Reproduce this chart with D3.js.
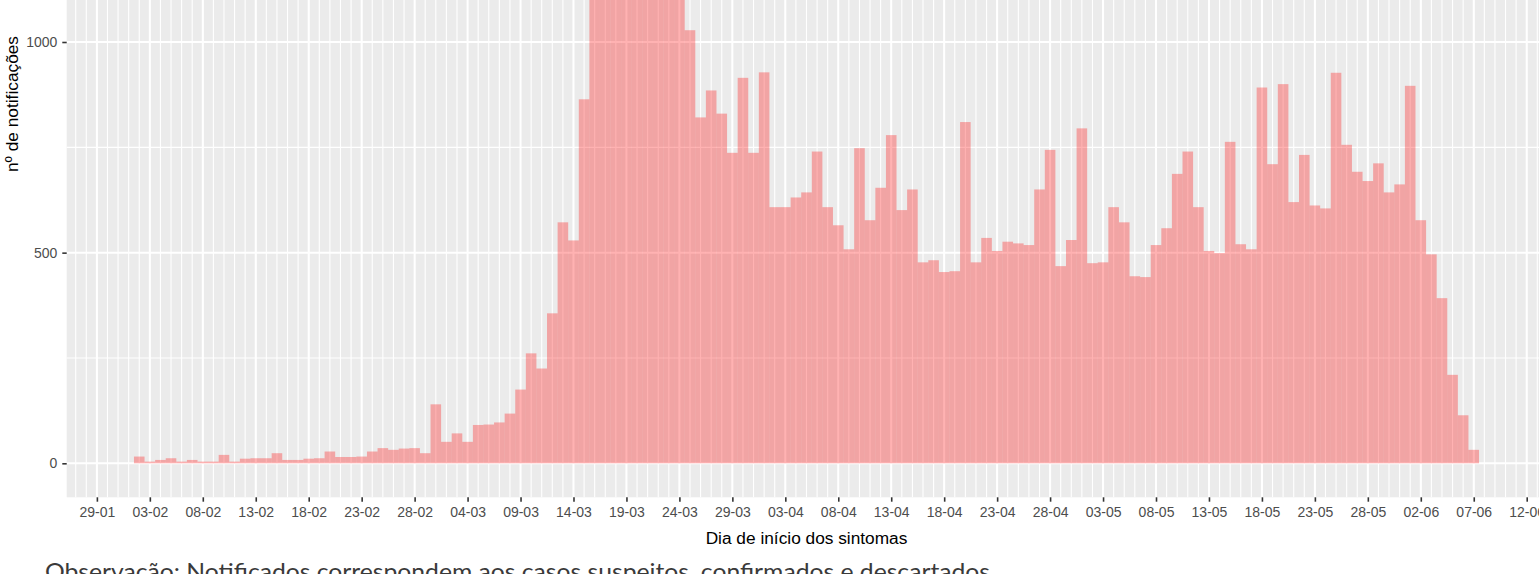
<!DOCTYPE html>
<html>
<head>
<meta charset="utf-8">
<script src="https://cdn.jsdelivr.net/npm/d3@7"></script>
<style>
  html, body { margin: 0; padding: 0; background: #fff; overflow: hidden; }
  svg { display: block; }
</style>
</head>
<body>
<svg class="chart"></svg>
<script>
// daily notifications by symptom onset, one bar per day starting 02-02-2020
const firstDay = "2020-02-02"
const counts = [
  16, 4, 8, 12, 4, 8, 4, 4, 20, 4,
  11, 12, 12, 24, 8, 8, 11, 12, 28, 15,
  15, 16, 28, 36, 32, 35, 36, 24, 140, 51,
  71, 51, 91, 92, 97, 118, 175, 261, 225, 356,
  572, 529, 864, 1180, 1350, 1480, 1614, 1420, 1530, 1290,
  1380, 1150, 1028, 821, 885, 830, 737, 915, 737, 928,
  608, 608, 631, 643, 740, 608, 565, 508, 748, 577,
  654, 779, 601, 650, 477, 482, 454, 456, 810, 477,
  535, 504, 526, 522, 518, 650, 744, 468, 530, 795,
  475, 477, 608, 572, 444, 442, 518, 558, 687, 740,
  608, 504, 499, 763, 520, 508, 892, 710, 900, 620,
  732, 612, 605, 927, 756, 692, 670, 712, 643, 662,
  896, 577, 496, 392, 210, 114, 32
]
const xTickLabels = ["29-01","03-02","08-02","13-02","18-02","23-02","28-02","04-03","09-03",
  "14-03","19-03","24-03","29-03","03-04","08-04","13-04","18-04","23-04","28-04","03-05",
  "08-05","13-05","18-05","23-05","28-05","02-06","07-06","12-06"]
const yTicks = [0, 500, 1000]
const yMajorGrid = [0, 500, 1000, 1500]
const yMinorGrid = [250, 750, 1250]
const xTitle = "Dia de início dos sintomas"
const yTitle = "nº de notificações"
const note = "Observação: Notificados correspondem aos casos suspeitos, confirmados e descartados"

const W = 1539, H = 574
const svg = d3.select(".chart").attr("width", W).attr("height", H)

const parseDay = d3.utcParse("%Y-%m-%d")
const parseTick = s => d3.utcParse("%d-%m-%Y")(s + "-2020")
const day0 = parseDay(firstDay)
const days = counts.map((v, i) => d3.utcDay.offset(day0, i))
const half = d => d3.utcHour.offset(d, 12)
const halfBack = d => d3.utcHour.offset(d, -12)

// ggplot style 5% expansion on both axes
const lo = halfBack(days[0]), hi = half(days[days.length - 1])
const span = hi - lo
const xDom = [new Date(+lo - span * 0.05), new Date(+hi + span * 0.05)]
const yMax = d3.max(counts)

const panel = {left: 66.7, right: 1546.3, bottom: 497.3}
const x = d3.scaleUtc().domain(xDom).range([panel.left, panel.right])
// 0 sits at 463.3 and 1000 at 42
const pxPerUnit = (463.3 - 42) / 1000
const yLo = -yMax * 0.05, yHi = yMax * 1.05
const y = d3.scaleLinear().domain([yLo, yHi])
  .range([panel.bottom, panel.bottom - (yHi - yLo) * pxPerUnit])

const g = svg.append("g")

g.append("rect")
  .attr("x", panel.left).attr("y", y(yHi))
  .attr("width", panel.right - panel.left)
  .attr("height", panel.bottom - y(yHi))
  .attr("fill", "#ebebeb")

// minor grid: every day, and half way between y breaks
const gridDays = d3.utcDay.range(d3.utcDay.ceil(xDom[0]), xDom[1])
g.selectAll(".vminor").data(gridDays).enter().append("line")
  .attr("x1", d => x(d)).attr("x2", d => x(d))
  .attr("y1", y(yHi)).attr("y2", panel.bottom)
  .attr("stroke", "#fff").attr("stroke-width", 1.1)
g.selectAll(".hminor").data(yMinorGrid).enter().append("line")
  .attr("x1", panel.left).attr("x2", panel.right)
  .attr("y1", d => y(d)).attr("y2", d => y(d))
  .attr("stroke", "#fff").attr("stroke-width", 1.1)

const tickDays = xTickLabels.map(parseTick)
g.selectAll(".vmajor").data(tickDays).enter().append("line")
  .attr("x1", d => x(d)).attr("x2", d => x(d))
  .attr("y1", y(yHi)).attr("y2", panel.bottom)
  .attr("stroke", "#fff").attr("stroke-width", 2)
g.selectAll(".hmajor").data(yMajorGrid).enter().append("line")
  .attr("x1", panel.left).attr("x2", panel.right)
  .attr("y1", d => y(d)).attr("y2", d => y(d))
  .attr("stroke", "#fff").attr("stroke-width", 2)

// bars
g.selectAll(".bar").data(counts).enter().append("rect")
  .attr("class", "bar")
  .attr("x", (d, i) => x(halfBack(days[i])))
  .attr("width", (d, i) => x(half(days[i])) - x(halfBack(days[i])))
  .attr("y", d => y(d))
  .attr("height", d => y(0) - y(d))
  .attr("fill", "red")
  .attr("fill-opacity", 0.3)

// axes
const xAxis = d3.axisBottom(x).tickValues(tickDays).tickSize(4.4).tickPadding(5)
  .tickFormat((d, i) => xTickLabels[i])
const yAxis = d3.axisLeft(y).tickValues(yTicks).tickSize(4.4).tickPadding(5)
  .tickFormat(d3.format("d"))

function styleAxis(a) {
  a.select(".domain").remove()
  a.selectAll(".tick line").attr("stroke", "#333").attr("stroke-width", 1.6)
  a.selectAll(".tick text").attr("fill", "#4d4d4d")
    .style("font-family", "'Liberation Sans', Arial, sans-serif").style("font-size", "14px")
}
g.append("g").attr("transform", "translate(0," + panel.bottom + ")").call(xAxis).call(styleAxis)
g.append("g").attr("transform", "translate(" + panel.left + ",0)").call(yAxis).call(styleAxis)

g.append("text")
  .attr("x", (panel.left + panel.right) / 2).attr("y", 543.5)
  .attr("text-anchor", "middle")
  .style("font-family", "'Liberation Sans', Arial, sans-serif").style("font-size", "17.3px")
  .attr("fill", "#000")
  .text(xTitle)

g.append("text")
  .attr("transform", "translate(18,104) rotate(-90)")
  .attr("text-anchor", "middle")
  .style("font-family", "'Liberation Sans', Arial, sans-serif").style("font-size", "17.3px")
  .attr("fill", "#000")
  .text(yTitle)

svg.append("text")
  .attr("x", 45).attr("y", 580)
  .style("font-family", "Lato, 'Open Sans', sans-serif").style("font-size", "23px")
  .attr("fill", "#3a3a3a")
  .attr("textLength", 945).attr("lengthAdjust", "spacingAndGlyphs")
  .text(note)
</script>
</body>
</html>
